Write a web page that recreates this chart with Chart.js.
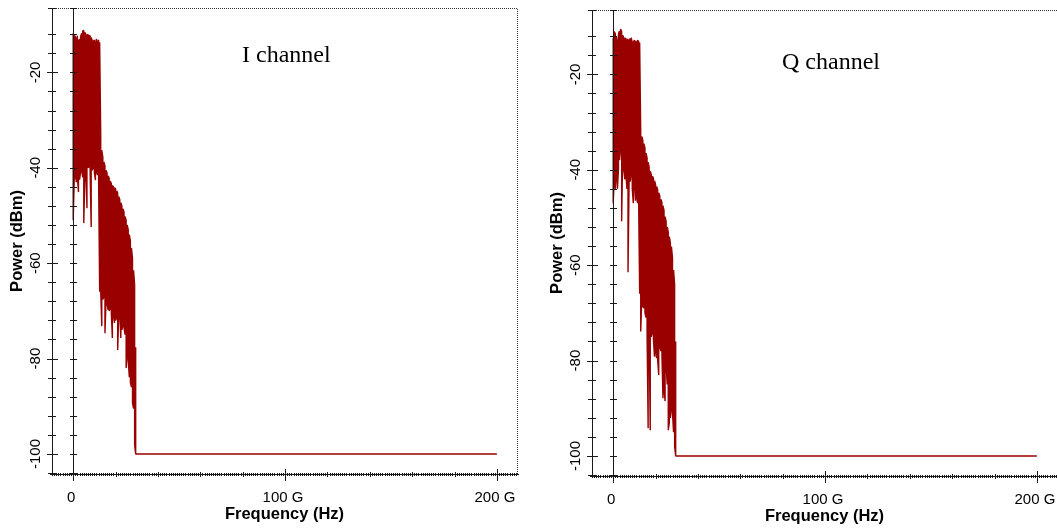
<!DOCTYPE html>
<html>
<head>
<meta charset="utf-8">
<script src="https://cdn.jsdelivr.net/npm/chart.js@4.4.1/dist/chart.umd.min.js"></script>
<style>
  html, body { margin: 0; padding: 0; background: #fff; overflow: hidden; }
  body { width: 1057px; height: 529px; position: relative; }
  canvas { position: absolute; }
  #chartI { left: 0; top: 0; }
  #chartQ { left: 540px; top: 2px; }
</style>
</head>
<body>
<canvas id="chartI" width="540" height="529"></canvas>
<canvas id="chartQ" width="540" height="529"></canvas>
<script>
// Spectrum: one sample every 0.5 GHz, with the peak and the
// dip of the (very dense) trace at that frequency, in dBm.
const FREQ_GHZ = [
  0, 0.5, 1, 1.5, 2, 2.5, 3, 3.5, 4, 4.5, 5, 5.5, 6, 6.5, 7, 7.5, 8, 8.5, 9, 9.5,
  10, 10.5, 11, 11.5, 12, 12.5, 13, 13.5, 14, 14.5, 15, 15.5, 16, 16.5, 17, 17.5, 18, 18.5, 19, 19.5,
  20, 20.5, 21, 21.5, 22, 22.5, 23, 23.5, 24, 24.5, 25, 25.5, 26, 26.5, 27, 27.5, 28, 28.5, 29, 29.5
];

const I_PEAK_DBM = [
  -11.8, -12.2, -12.5, -13.2, -12.3, -13.5, -13.0, -12.5, -11.8, -11.3, -11.2, -11.6, -12.0, -12.3, -12.0, -12.2, -12.4, -12.7, -13.3, -13.5,
  -13.2, -13.8, -13.0, -13.6, -13.2, -13.7, -33.0, -36.3, -37.8, -38.8, -39.6, -40.5, -41.1, -41.7, -42.2, -42.8, -43.3, -43.7, -44.0, -44.2,
  -44.4, -44.8, -45.3, -46.0, -46.7, -47.3, -48.0, -48.6, -49.3, -50.2, -51.0, -52.0, -53.0, -54.0, -55.3, -56.8, -59.0, -61.5, -64.5, -77.6
];
const I_DIP_DBM = [
  -51.0, -42.5, -41.5, -43.0, -42.0, -45.1, -42.5, -41.0, -40.3, -42.0, -51.6, -42.0, -40.5, -48.5, -40.0, -39.8, -41.0, -52.4, -40.5, -40.0,
  -41.0, -42.6, -41.0, -41.5, -42.5, -66.0, -66.0, -73.2, -67.6, -67.0, -74.7, -68.0, -68.5, -69.8, -70.0, -69.5, -70.5, -75.7, -71.0, -72.5,
  -72.0, -71.5, -78.2, -71.0, -70.5, -75.7, -74.0, -73.0, -73.5, -75.0, -82.0, -79.0, -80.5, -83.9, -85.0, -86.0, -89.3, -90.5, -98.1, -100.0
];

const Q_PEAK_DBM = [
  -12.3, -11.0, -11.5, -12.0, -13.3, -11.5, -10.9, -10.5, -11.0, -11.8, -12.3, -12.4, -12.5, -12.8, -12.6, -13.0, -12.5, -12.3, -13.3, -13.3,
  -12.8, -13.0, -13.3, -12.8, -13.1, -13.3, -32.0, -33.0, -33.8, -34.5, -35.4, -36.5, -37.5, -38.4, -39.5, -40.3, -41.0, -41.3, -41.8, -42.3,
  -43.0, -43.5, -44.2, -44.8, -45.5, -46.2, -46.8, -47.5, -48.5, -49.8, -50.8, -52.0, -53.0, -54.0, -55.3, -56.1, -58.5, -61.0, -64.0, -76.0
];
const Q_DIP_DBM = [
  -47.0, -42.0, -44.0, -41.5, -44.0, -40.0, -38.0, -35.5, -50.8, -36.0, -40.0, -42.0, -41.0, -44.0, -61.5, -43.0, -42.5, -41.0, -44.0, -47.0,
  -43.0, -46.5, -45.5, -47.0, -46.0, -66.0, -73.9, -67.0, -68.7, -69.0, -70.0, -71.0, -74.5, -94.2, -76.0, -94.6, -75.0, -74.0, -75.5, -79.2,
  -78.0, -79.5, -80.0, -83.0, -77.0, -78.0, -78.5, -87.9, -86.0, -88.5, -81.0, -85.0, -94.6, -93.0, -92.0, -89.8, -91.0, -95.0, -98.0, -100.0
];

// flat noise floor after the band edge
const FLOOR_GHZ = [29.5, 200];
const FLOOR_DBM = [-100, -100];

const X_TICKS_GHZ = [0, 100, 200];
const X_TICK_LABELS = ['0', '100 G', '200 G'];
const Y_TICKS_DBM = [-100, -80, -60, -40, -20];
const Y_TICK_LABELS = ['-100', '-80', '-60', '-40', '-20'];

const TRACE = '#990000';
const AXIS = '#1a1a1a';
const SANS = '"Liberation Sans", Arial, sans-serif';

// Zig-zag through peak/dip at each frequency so the dense trace reads as a band.
function traceFor(peaks, dips) {
  const pts = [];
  FREQ_GHZ.forEach((f, i) => {
    if (i % 2 === 0) pts.push({ x: f, y: peaks[i] }, { x: f, y: dips[i] });
    else pts.push({ x: f, y: dips[i] }, { x: f, y: peaks[i] });
  });
  FLOOR_GHZ.forEach((f, i) => pts.push({ x: f, y: FLOOR_DBM[i] }));
  return pts;
}

// Axis frame in the style of the original tool: crossing ticks on the left
// axis and on the 0 Hz line, dense little ticks on the frequency axis,
// dotted top/right border.
const spectrumFrame = {
  id: 'spectrumFrame',
  afterDatasetsDraw(chart, args, opts) {
    const { ctx, chartArea: a, scales: { x, y } } = chart;
    const L = Math.round(a.left), T = Math.round(a.top), R = Math.round(a.right), B = Math.round(a.bottom);
    const Z = Math.round(x.getPixelForValue(0));
    ctx.save();
    ctx.lineWidth = 1;

    ctx.strokeStyle = '#333';
    ctx.setLineDash([1, 1]);
    ctx.beginPath();
    ctx.moveTo(L + 2, T + 0.5); ctx.lineTo(R + 1, T + 0.5);
    ctx.moveTo(R + 0.5, T + 1); ctx.lineTo(R + 0.5, B);
    ctx.stroke();
    ctx.setLineDash([]);

    ctx.strokeStyle = AXIS;
    ctx.beginPath();
    ctx.moveTo(L + 0.5, T); ctx.lineTo(L + 0.5, B + 2);
    ctx.moveTo(Z + 0.5, T); ctx.lineTo(Z + 0.5, B + 1);
    ctx.moveTo(L - 2, B + 0.5); ctx.lineTo(R + 2, B + 0.5);

    const yTicks = [y.max];
    for (let v = Math.ceil(y.min / 4) * 4; v < y.max - 2; v += 4) yTicks.push(v);
    yTicks.forEach(v => {
      const py = Math.round(y.getPixelForValue(v)) + 0.5;
      const major = Y_TICKS_DBM.includes(v);
      ctx.moveTo(L - (major ? 5 : 4), py); ctx.lineTo(L + (major ? 6 : 4), py);
      ctx.moveTo(Z - 3, py); ctx.lineTo(Z + 4, py);
    });

    for (let v = Math.ceil(x.min); v <= x.max; v += 1) {
      const px = Math.round(x.getPixelForValue(v)) + 0.5;
      if (X_TICKS_GHZ.includes(v)) { ctx.moveTo(px, B - 5); ctx.lineTo(px, B + 7); }
      else if (v % 20 === 0) { ctx.moveTo(px, B - 2); ctx.lineTo(px, B + 3); }
      else { ctx.moveTo(px, B - 1); ctx.lineTo(px, B + 2); }
    }
    ctx.stroke();

    ctx.fillStyle = '#000';
    ctx.font = '15px ' + SANS;
    ctx.textAlign = 'center';
    ctx.textBaseline = 'alphabetic';
    X_TICKS_GHZ.forEach((v, i) => ctx.fillText(X_TICK_LABELS[i], x.getPixelForValue(v) - 2, B + 28));
    Y_TICKS_DBM.forEach((v, i) => {
      ctx.save();
      ctx.translate(L - 16, y.getPixelForValue(v));
      ctx.rotate(-Math.PI / 2);
      ctx.textBaseline = 'middle';
      ctx.fillText(Y_TICK_LABELS[i], 0, 0);
      ctx.restore();
    });

    ctx.font = 'bold 16.5px ' + SANS;
    ctx.fillText('Frequency (Hz)', (a.left + a.right) / 2, B + 45);
    ctx.save();
    ctx.translate(17, (a.top + a.bottom) / 2);
    ctx.rotate(-Math.PI / 2);
    ctx.textBaseline = 'middle';
    ctx.fillText('Power (dBm)', 0, 0);
    ctx.restore();

    ctx.font = '24px "Liberation Serif", "Times New Roman", serif';
    ctx.textAlign = 'left';
    ctx.fillText(opts.title, opts.titleX, opts.titleY);
    ctx.restore();
  }
};

function spectrumChart(canvasId, title, peaks, dips, titleX, titleY) {
  return new Chart(document.getElementById(canvasId), {
    type: 'line',
    data: {
      datasets: [{
        label: title,
        data: traceFor(peaks, dips),
        borderColor: TRACE,
        borderWidth: 1.4,
        borderJoinStyle: 'bevel',
        pointRadius: 0,
        tension: 0,
        fill: false
      }]
    },
    options: {
      responsive: false,
      animation: false,
      events: [],
      layout: { padding: { left: 52, top: 8, right: 23, bottom: 55 } },
      plugins: {
        legend: { display: false },
        tooltip: { enabled: false },
        spectrumFrame: { title, titleX, titleY }
      },
      scales: {
        x: { type: 'linear', min: -10, max: 209.5, display: false },
        y: { type: 'linear', min: -104.2, max: -6.5, display: false }
      }
    },
    plugins: [spectrumFrame]
  });
}

spectrumChart('chartI', 'I channel', I_PEAK_DBM, I_DIP_DBM, 242, 62);
spectrumChart('chartQ', 'Q channel', Q_PEAK_DBM, Q_DIP_DBM, 242, 67);
</script>
</body>
</html>
